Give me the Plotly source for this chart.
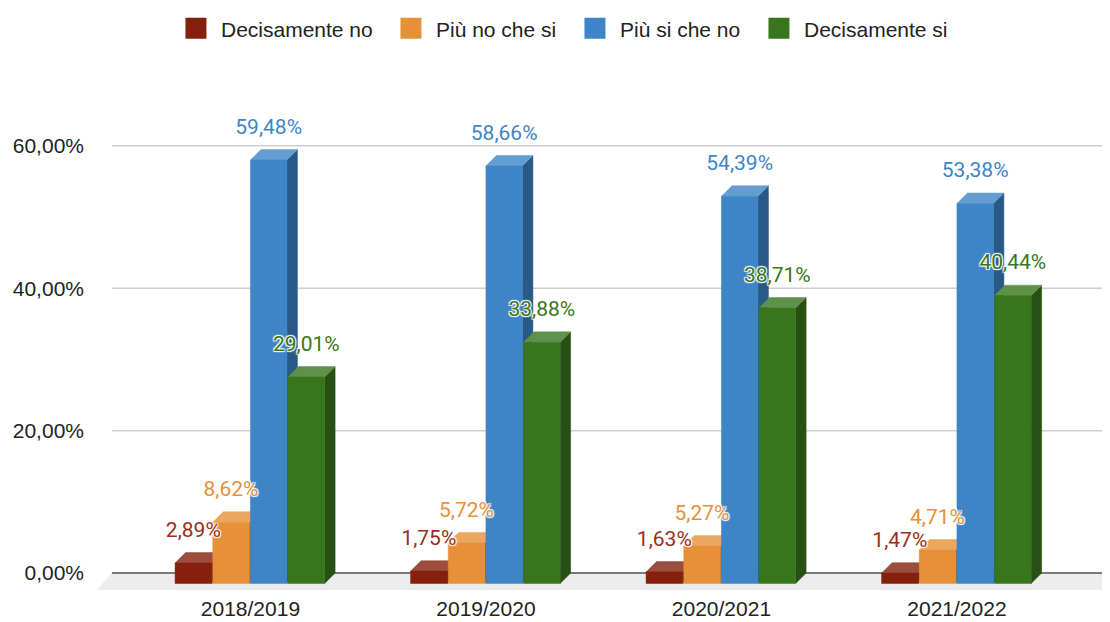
import plotly.graph_objects as go

categories = ["2018/2019", "2019/2020", "2020/2021", "2021/2022"]
series_names = ["Decisamente no", "Più no che si", "Più si che no", "Decisamente si"]
decisamente_no = [2.89, 1.75, 1.63, 1.47]
piu_no_che_si = [8.62, 5.72, 5.27, 4.71]
piu_si_che_no = [59.48, 58.66, 54.39, 53.38]
decisamente_si = [29.01, 33.88, 38.71, 40.44]
y_tick_values = [0, 20, 40, 60]

series_values = [decisamente_no, piu_no_che_si, piu_si_che_no, decisamente_si]
colors = ["#85200c", "#e69138", "#3d85c6", "#38761d"]
label_colors = ["#9a2e1c", "#e69138", "#3d85c6", "#38761d"]
legend_item_widths = [160, 129, 129, 152]

# geometry of the pseudo-3D bars (axis units)
PITCH = 0.16      # distance between bars inside a group
FACE = 0.155      # width of front face
DX = 0.0446       # depth shift, x
DY = 1.46         # depth shift, y
LABEL_OFF = 2.95  # label centre above the back top
X_MIN, X_MAX = -0.660, 3.650
Y_MIN, Y_MAX = -2.37, 65.88
GRID_X0 = -0.588
FLOOR_X0 = -0.652


def mix(hex_color, other, t):
    a = [int(hex_color[i:i + 2], 16) for i in (1, 3, 5)]
    b = [int(other[i:i + 2], 16) for i in (1, 3, 5)]
    c = [round(a[k] * (1 - t) + b[k] * t) for k in range(3)]
    return "#%02x%02x%02x" % tuple(c)


def pct(v):
    return f"{v:.2f}".replace(".", ",") + "%"


fig = go.Figure()
label_traces = []

for j, (name, vals) in enumerate(zip(series_names, series_values)):
    col = colors[j]
    top_col = mix(col, "#ffffff", 0.2)
    side_col = mix(col, "#000000", 0.32)
    sx, sy, tx, ty, fx, fy, lx, ly, lt = [], [], [], [], [], [], [], [], []
    for i, v in enumerate(vals):
        x0 = i - 2 * PITCH + j * PITCH
        x1 = x0 + FACE
        sx += [x1, x1 + DX, x1 + DX, x1, x1, None]
        sy += [-DY, 0, v, v - DY, -DY, None]
        tx += [x0, x1, x1 + DX, x0 + DX, x0, None]
        ty += [v - DY, v - DY, v, v, v - DY, None]
        fx += [x0, x1, x1, x0, x0, None]
        fy += [-DY, -DY, v - DY, v - DY, -DY, None]
        lx.append(x0 + FACE / 2)
        ly.append(v + LABEL_OFF)
        lt.append(pct(v))
    for xs, ys, c in ((sx, sy, side_col), (tx, ty, top_col), (fx, fy, col)):
        fig.add_trace(go.Scatter(
            x=xs, y=ys, fill="toself", fillcolor=c, mode="lines",
            line=dict(color=c, width=0.5), hoverinfo="skip",
            showlegend=False, legendgroup=name))
    label_traces.append(go.Scatter(
        x=lx, y=ly, mode="text", text=lt, textposition="middle center",
        textfont=dict(family="Roboto, Arial, sans-serif", size=21, color=label_colors[j],
                      shadow="1px 1px 1px #fff, -1px -1px 1px #fff, 1px -1px 1px #fff, -1px 1px 1px #fff"),
        cliponaxis=False, hoverinfo="skip", showlegend=False, legendgroup=name))

for tr in label_traces:
    fig.add_trace(tr)

for j, name in enumerate(series_names):
    fig.add_trace(go.Scatter(
        x=[None], y=[None], mode="markers", name=name, legendgroup=name,
        legendwidth=legend_item_widths[j],
        marker=dict(symbol="square", size=16, color=colors[j],
                    line=dict(color=colors[j], width=5))))

shapes = [dict(type="path", xref="x", yref="y", layer="below",
               path=f"M {GRID_X0},0 L {X_MAX},0 L {X_MAX},{Y_MIN} L {FLOOR_X0},{Y_MIN} Z",
               fillcolor="#ececec", line=dict(width=0))]
for t in y_tick_values:
    shapes.append(dict(type="line", xref="x", yref="y", layer="below",
                       x0=GRID_X0, x1=X_MAX, y0=t, y1=t,
                       line=dict(color="#7a7a7a" if t == 0 else "#cfcfcf",
                                 width=2 if t == 0 else 1.5)))

fig.update_layout(
    width=1102, height=614,
    margin=dict(l=87, r=0, t=92, b=32),
    paper_bgcolor="#ffffff", plot_bgcolor="#ffffff",
    separators=",.",
    font=dict(family="Liberation Sans, Arial, Helvetica, sans-serif", size=21, color="#222222"),
    shapes=shapes,
    showlegend=True,
    legend=dict(orientation="h", x=0.464, xanchor="center", y=1.155, yanchor="middle",
                itemwidth=40, font=dict(size=21, color="#222222"),
                bgcolor="rgba(0,0,0,0)"),
    xaxis=dict(range=[X_MIN, X_MAX], tickmode="array", tickvals=list(range(len(categories))),
               ticktext=categories, showgrid=False, zeroline=False, showline=False,
               ticks="", ticklabelstandoff=4, fixedrange=True),
    yaxis=dict(range=[Y_MIN, Y_MAX], tickmode="array", tickvals=y_tick_values,
               ticktext=[pct(t) for t in y_tick_values], showgrid=False, zeroline=False,
               showline=False, ticks="", ticklabelstandoff=10, fixedrange=True),
)

fig.write_html("out.html")
